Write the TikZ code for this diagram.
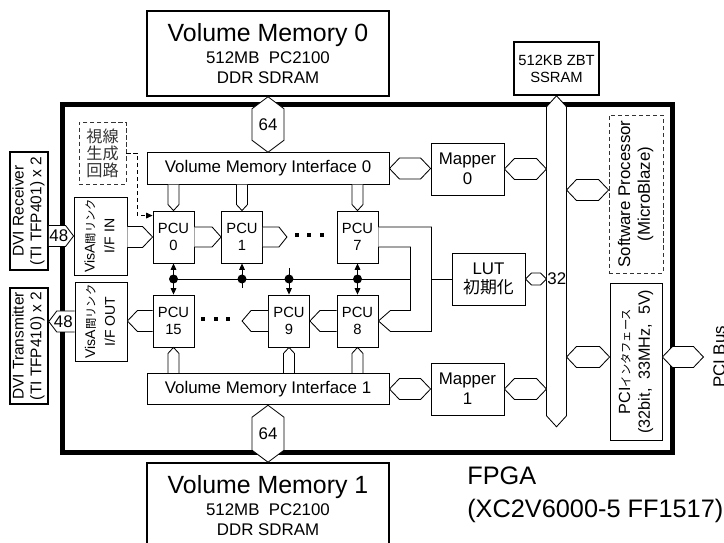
\documentclass[tikz,border=0pt]{standalone}
\usepackage{fontspec}
\setmainfont{Liberation Sans}
\newfontfamily\jp{Noto Sans CJK JP}
\usepackage{graphicx}
\usetikzlibrary{arrows.meta, positioning, calc}
\tikzset{
	box/.style={rectangle, draw, line width=0.6pt, align=center, inner sep=1pt, font=\fontsize{12}{14}\selectfont},
	mem/.style={box, line width=1.1pt, minimum width=6.05cm, minimum height=2.125cm},
	vmif/.style={box, minimum width=6.05cm, minimum height=0.79cm},
	pcu/.style={box, minimum width=1.025cm, minimum height=1.3cm, font=\fontsize{10.5}{12}\selectfont},
	unit/.style={box, minimum width=1.825cm, minimum height=1.3cm},
	dvi/.style={box, line width=1.1pt, minimum width=0.95cm, font=\fontsize{11}{12.5}\selectfont},
	dashbox/.style={box, draw=black!80, dash pattern=on 3pt off 2pt},
	bus/.style={draw, fill=white, line width=0.6pt},
	wire/.style={draw, line width=0.6pt},
	arr/.style={wire, -{Triangle[length=4.5pt, width=4pt]}},
	dblarr/.style={wire, {Triangle[length=4.5pt, width=4pt]}-{Triangle[length=4.5pt, width=4pt]}},
	lbl/.style={inner sep=0pt, font=\fontsize{12}{14}\selectfont}
}
\newcommand{\smalljp}[1]{{\jp\fontsize{8}{10}\selectfont #1}}
\newcommand{\hexh}[4]{\draw[bus] (#1) -- ($(#1)+(#4,-#3)$) -- ($(#2)+(-#4,-#3)$) -- (#2) -- ($(#2)+(-#4,#3)$) -- ($(#1)+(#4,#3)$) -- cycle;}
\newcommand{\hexv}[4]{\draw[bus] (#1) -- ($(#1)+(#3,#4)$) -- ($(#2)+(#3,-#4)$) -- (#2) -- ($(#2)+(-#3,-#4)$) -- ($(#1)+(-#3,#4)$) -- cycle;}
\newcommand{\busr}[4]{\draw[bus] ($(#1)+(0,-#3)$) -- ($(#2)+(-#4,-#3)$) -- (#2) -- ($(#2)+(-#4,#3)$) -- ($(#1)+(0,#3)$);}
\newcommand{\busl}[4]{\draw[bus] ($(#1)+(0,-#3)$) -- ($(#2)+(#4,-#3)$) -- (#2) -- ($(#2)+(#4,#3)$) -- ($(#1)+(0,#3)$);}
\newcommand{\busd}[4]{\draw[bus] ($(#1)+(-#3,0)$) -- ($(#2)+(-#3,-#4)$) -- (#2) -- ($(#2)+(#3,-#4)$) -- ($(#1)+(#3,0)$);}
\newcommand{\busu}[4]{\draw[bus] ($(#1)+(-#3,0)$) -- ($(#2)+(-#3,#4)$) -- (#2) -- ($(#2)+(#3,#4)$) -- ($(#1)+(#3,0)$);}

\begin{document}
\begin{tikzpicture}[x=0.025cm, y=-0.025cm]
    \useasboundingbox (0,0) rectangle (724,543);
    \node[draw, line width=3.6pt, minimum width=15.225cm, minimum height=8.675cm] (fpga) at (367.5,278.5) {};

    \node[mem] (vm0) at (268,53.5) {{\fontsize{17.7}{20}\selectfont Volume Memory 0}\\[1.4pt]512MB\ \ PC2100\\DDR SDRAM};
    \node[mem] (vm1) at (268,505.5) {{\fontsize{17.7}{20}\selectfont Volume Memory 1}\\[1.4pt]512MB\ \ PC2100\\DDR SDRAM};
    \node[vmif] (vmi0) at (268,168.5) {Volume Memory Interface 0};
    \node[vmif] (vmi1) at (268,389) {Volume Memory Interface 1};

    \node[pcu] (pcu0) at (173.5,237) {PCU\\0};
    \node[pcu] (pcu1) at (242,237) {PCU\\1};
    \node[pcu] (pcu7) at (357.5,237) {PCU\\7};
    \node[pcu] (pcu15) at (173.5,321) {PCU\\15};
    \node[pcu] (pcu9) at (289,321) {PCU\\9};
    \node[pcu] (pcu8) at (357.5,321) {PCU\\8};

    \node[box, minimum width=1.325cm, minimum height=1.95cm, font=\fontsize{10}{14}\selectfont] (visin) at (100.5,236) {\rotatebox{90}{\begin{tabular}{@{}c@{}}VisA\smalljp{間リンク}\\I/F IN\end{tabular}}};
    \node[box, minimum width=1.3cm, minimum height=1.975cm, font=\fontsize{10}{14}\selectfont] (visout) at (101,321.5) {\rotatebox{90}{\begin{tabular}{@{}c@{}}VisA\smalljp{間リンク}\\I/F OUT\end{tabular}}};
    \node[dvi, minimum height=2.95cm] (dvirx) at (29,211) {\rotatebox{90}{\begin{tabular}{@{}c@{}}DVI Receiver\\(TI TFP401) x 2\end{tabular}}};
    \node[dvi, minimum height=2.9cm] (dvitx) at (29,346) {\rotatebox{90}{\begin{tabular}{@{}c@{}}DVI Transmitter\\(TI TFP410) x 2\end{tabular}}};
    \node[dashbox, minimum width=1.175cm, minimum height=1.55cm, font=\jp\fontsize{11.5}{12}\selectfont, text=black!80] (vision) at (102.5,153) {視線\\生成\\回路};

    \node[unit] (map0) at (467.5,169) {Mapper\\0};
    \node[unit] (map1) at (467.5,389) {Mapper\\1};
    \node[unit] (lut) at (488.5,279) {LUT\\{\jp 初期化}};
    \node[box, line width=1.1pt, minimum width=2.125cm, minimum height=1.325cm, font=\fontsize{10.5}{12}\selectfont] (ssram) at (556.5,68.5) {512KB ZBT\\SSRAM};
    \node[dashbox, minimum width=1.35cm, minimum height=3.95cm] (sw) at (636,194) {\rotatebox{90}{\begin{tabular}{@{}c@{}}Software Processor\\(MicroBlaze)\end{tabular}}};
    \node[box, minimum width=1.3cm, minimum height=3.925cm, font=\fontsize{11.5}{14}\selectfont] (pci) at (636,361.5) {\rotatebox{90}{\begin{tabular}{@{}c@{}}PCI\smalljp{インタフェース}\\(32bit,\ \ 33MHz,\ \ 5V)\end{tabular}}};
    \node[lbl, rotate=90, anchor=north] (pcibuslabel) at (713,357) {PCI Bus};
    \node[anchor=north west, inner sep=0pt, align=left, font=\fontsize{18}{23.4}\selectfont] (fpgalabel) at (467,467) {FPGA\\(XC2V6000-5 FF1517)};

    \hexv{vm0.south}{vmi0.north}{16}{12}
    \node[lbl] (w64a) at ($(vm0.south)!0.5!(vmi0.north)$) {64};
    \hexv{vmi1.south}{vm1.north}{16}{12}
    \node[lbl] (w64b) at ($(vmi1.south)!0.5!(vm1.north)$) {64};
    \hexh{vmi0.east}{vmi0.east -| map0.west}{10.5}{10}
    \hexh{vmi1.east}{vmi1.east -| map1.west}{10.5}{10}

    \coordinate (busL) at ($(ssram.south)+(-10,0)$);
    \coordinate (busR) at ($(ssram.south)+(10,0)$);
    \coordinate (busend) at ($(ssram.south)+(0,331)$);
    \hexv{ssram.south}{busend}{10}{11}
    \hexh{map0.east}{map0.east -| busL}{10.5}{10}
    \hexh{map1.east}{map1.east -| busL}{10.5}{10}
    \hexh{lut.east}{lut.east -| busL}{6}{6}
    \node[lbl, anchor=west, inner sep=0.5pt] (w32) at (lut.east -| busL) {32};
    \coordinate (swport) at ($(sw.west)+(0,-4)$);
    \hexh{swport -| busR}{swport}{10.5}{10}
    \coordinate (pciport) at ($(pci.west)+(0,-4.5)$);
    \hexh{pciport -| busR}{pciport}{10.5}{10}
    \coordinate (pcibus) at ($(pciport -| pci.east)+(41,0)$);
    \hexh{pciport -| pci.east}{pcibus}{10.5}{10}

    \busr{dvirx.east |- visin.west}{visin.west}{10.5}{8}
    \node[lbl] (w48a) at ($(dvirx.east |- visin.west)+(10,0)$) {48};
    \busl{visout.west}{dvitx.east |- visout.west}{10.5}{8}
    \node[lbl] (w48b) at ($(dvitx.east |- visout.west)+(14.5,0)$) {48};

    \busr{visin.east |- pcu0.west}{pcu0.west}{10.5}{10}
    \busr{pcu0.east}{pcu1.west}{10}{9}
    \coordinate (dotsA) at ($(pcu1.east)+(24,0)$);
    \busr{pcu1.east}{dotsA}{10}{8}
    \foreach \i in {0,1,2}
        \fill ($(dotsA)+(10+12.5*\i,-2)$) +(-2,-2) rectangle +(2,2);
    \busl{pcu15.west}{visout.east |- pcu15.west}{10.5}{10}
    \coordinate (dotsB) at ($(pcu9.west)+(-26,0)$);
    \busl{pcu9.west}{dotsB}{10.5}{9}
    \foreach \i in {0,1,2}
        \fill ($(dotsB)+(-14-12.5*\i,-2)$) +(-2,-2) rectangle +(2,2);
    \busl{pcu8.west}{pcu9.east}{10.5}{10}

    \foreach \p in {pcu0, pcu1, pcu7}
        {\busd{vmi0.south -| \p.north}{\p.north}{5.5}{6}}
    \foreach \p in {pcu15, pcu9, pcu8}
        {\busu{vmi1.north -| \p.south}{\p.south}{5.5}{6}}

    \draw[bus] ($(pcu7.east)+(0,-10)$) -| ($(pcu8.east)+(53,10.5)$) -- ($(pcu8.east)+(12,10.5)$) -- (pcu8.east) -- ($(pcu8.east)+(12,-10.5)$) -| ($(pcu7.east)+(32,10)$) -- ($(pcu7.east)+(0,10)$);

    \coordinate (tap0) at ($(pcu0.south)!0.5!(pcu15.north)$);
    \coordinate (tap7) at ($(pcu7.south)!0.5!(pcu8.north)$);
    \draw[wire] (tap0) -- ($(pcu7.east |- tap0)+(32,0)$);
    \draw[wire] ($(pcu7.east |- lut.west)+(53,0)$) -- (lut.west);
    \draw[dblarr] (pcu0.south) -- (pcu15.north);
    \draw[arr] ($(pcu1.south |- tap0)+(0,9)$) -- (pcu1.south);
    \draw[arr] ($(pcu9.north |- tap0)+(0,-11)$) -- (pcu9.north);
    \draw[dblarr] (pcu7.south) -- (pcu8.north);
    \foreach \t in {tap0, tap7, pcu1.south |- tap0, pcu9.north |- tap0}
        \fill (\t) circle (3.2pt);

    \draw[arr, dash pattern=on 3pt off 2pt] (vision.east) -- ++(11,0) |- ($(pcu0.north west)+(0,5)$);
\end{tikzpicture}
\end{document}
